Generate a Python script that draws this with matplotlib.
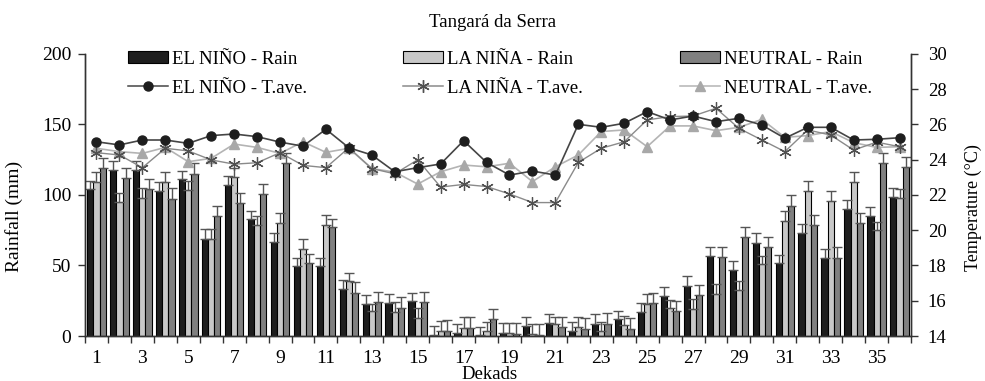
import numpy as np
import matplotlib
matplotlib.use("Agg")
import matplotlib.pyplot as plt
from matplotlib.patches import Patch
from matplotlib.lines import Line2D

plt.rcParams['font.family'] = ['Liberation Serif', 'DejaVu Serif']

dekads = list(range(1, 37))
tick_labels = [str(d) for d in range(1, 37, 2)]

rain_elnino = [104, 117.8, 117.8, 103, 111, 69, 107, 82.7, 66.6, 49.5, 49.5, 33, 23, 23.7, 25, 0.5, 2.4, 0.5,
               2.4, 7, 9.5, 3.5, 8.8, 11.8, 17, 28.4, 35.8, 56.9, 47, 66, 52, 72.7, 55, 89.8, 85, 98.8]
err_elnino = [6, 6, 6, 6.5, 6, 6.6, 6.5, 6.3, 6.4, 6, 6, 6.6, 6.4, 6.3, 5.8, 6.5, 6.4, 6,
              6.6, 6.5, 6.4, 6.5, 6.6, 6.2, 6.5, 6.4, 6.6, 6.1, 6, 6.7, 5.8, 6.7, 7, 6.6, 6.7, 6.2]
rain_lanina = [109.5, 95, 98, 109.5, 103.5, 69, 112.5, 78.7, 80, 61.6, 78.7, 39, 18, 17, 13, 3.5, 6, 3.5,
               2.4, 1.7, 8.3, 6.4, 3.8, 8, 23, 20, 19.4, 30, 32.5, 51.4, 81.8, 102.8, 95.7, 109.5, 75, 97.6]
err_lanina = [7, 6.5, 7, 6.5, 6.5, 7, 6.5, 6.3, 7.4, 7, 7, 6, 5, 7, 7, 7, 7.5, 6.5,
              6.6, 6.6, 5.2, 7, 6.2, 6.5, 7, 5.8, 7, 7, 6.5, 5.2, 7.2, 7.2, 7.1, 7, 6, 6.5]
rain_neutral = [119, 112, 104, 97.4, 115, 85, 94, 100.7, 122.5, 52, 77, 30.8, 24, 20, 24, 3.5, 6, 12,
                1.7, 0.5, 6.4, 5.2, 8.8, 5.2, 23.5, 17.8, 29.4, 56, 70, 63, 92, 78.4, 55, 80, 123, 120]
err_neutral = [7, 7, 7, 7.3, 7.5, 7, 7.6, 7.1, 7, 6, 6.2, 7.2, 7.5, 7.7, 7.5, 7.5, 7.5, 7,
               7.3, 7.8, 7.1, 7.8, 7.2, 7.4, 7.1, 7.1, 7.1, 7, 7.5, 7.4, 8, 7.4, 7.8, 7.3, 7, 7]

t_elnino = [25.02, 24.84, 25.12, 25.12, 24.93, 25.37, 25.46, 25.31, 25.0, 24.77, 25.73, 24.68, 24.27, 23.32,
            23.55, 23.76, 25.08, 23.85, 23.13, 23.36, 23.13, 26.01, 25.84, 26.07, 26.73, 26.26, 26.48, 26.16,
            26.35, 25.97, 25.22, 25.84, 25.84, 25.12, 25.16, 25.25]
t_lanina = [24.4, 24.27, 23.55, 24.65, 24.5, 23.99, 23.75, 23.83, 24.4, 23.68, 23.55, 24.68, 23.5, 23.2,
            24.0, 22.45, 22.6, 22.48, 22.06, 21.57, 21.57, 23.85, 24.65, 25.02, 26.26, 26.45, 26.48, 26.92,
            25.78, 25.12, 24.46, 25.69, 25.4, 24.55, 25.0, 24.74]
t_neutral = [24.65, 24.46, 24.36, 24.7, 23.89, 24.08, 24.89, 24.7, 24.36, 25.02, 24.42, 24.65, 23.5, 23.3,
             22.62, 23.32, 23.7, 23.6, 23.8, 22.76, 23.6, 24.27, 25.6, 25.69, 24.74, 25.92, 25.92, 25.65,
             25.84, 26.29, 25.27, 25.37, 25.6, 24.97, 24.7, 24.74]

c_en, c_ln, c_nt = '#1e1e1e', '#c8c8c8', '#808080'

fig = plt.figure(figsize=(9.85, 3.81), dpi=100)
ax = fig.add_axes([0.0863, 0.1181, 0.8386, 0.7402])
ax2 = ax.twinx()

x = np.array(dekads, dtype=float)
w = 0.27
for off, vals, errs, col in [(-w, rain_elnino, err_elnino, c_en),
                             (0, rain_lanina, err_lanina, c_ln),
                             (w, rain_neutral, err_neutral, c_nt)]:
    ax.bar(x + off, vals, width=w, color=col, edgecolor='black', linewidth=0.8, zorder=2)
    ax.errorbar(x + off, vals, yerr=[np.zeros(len(errs)), errs], fmt='none', ecolor='#555555',
                elinewidth=1.0, capsize=3.5, capthick=1.0, zorder=3)

ax2.plot(x, t_neutral, color='#b4b4b4', lw=1.2, marker='^', ms=7, mfc='#a8a8a8', mec='#a8a8a8', zorder=4)
ax2.plot(x, t_lanina, color='#8a8a8a', lw=1.0, marker=(6, 2, 0), ms=9, mfc='#505050', mec='#505050',
         mew=0.9, zorder=5)
ax2.plot(x, t_elnino, color='#454545', lw=1.2, marker='o', ms=6.5, mfc='#1e1e1e', mec='#1e1e1e', zorder=6)

ax.set_xlim(0.5, 36.5)
ax.set_ylim(0, 200)
ax2.set_ylim(14, 30)
ax.set_yticks([0, 50, 100, 150, 200])
ax2.set_yticks(list(range(14, 31, 2)))
ax.set_xticks(list(range(1, 37, 2)))
ax.set_xticklabels(tick_labels)
ax.set_xticks(np.arange(0.5, 37, 1.0), minor=True)
ax.tick_params(axis='x', which='major', length=0, pad=10, labelsize=14)
ax.tick_params(axis='x', which='minor', length=5, width=1, color='#333333')
ax.tick_params(axis='y', length=5, width=1, pad=5, labelsize=14, color='#333333')
ax2.tick_params(axis='y', length=5, width=1, pad=7, labelsize=13.5, color='#333333')

for a in (ax, ax2):
    a.spines['top'].set_visible(False)
    for s in ('left', 'right', 'bottom'):
        a.spines[s].set_color('#333333')
        a.spines[s].set_linewidth(1.0)
ax.set_zorder(0)
ax2.set_zorder(1)
ax2.patch.set_visible(False)

ax.set_ylabel('Rainfall (mm)', fontsize=14)
ax.yaxis.set_label_coords(-0.0755, 0.425)
ax2.set_ylabel('Temperature (°C)', fontsize=13)
ax2.yaxis.set_label_coords(1.0645, 0.457)
ax.set_xlabel('Dekads', fontsize=13.5)
ax.xaxis.set_label_coords(0.49, -0.105)
fig.text(0.5, 0.94, 'Tangará da Serra', ha='center', va='center', fontsize=13.5)

def leg(col, mk, lcol, mcol, ms, label, xpos):
    h = [Patch(facecolor=col, edgecolor='black', linewidth=0.8),
         Line2D([], [], color=lcol, marker=mk, ms=ms, mfc=mcol, mec=mcol, lw=1.1)]
    lg = fig.legend(h, [label + ' - Rain', label + ' - T.ave.'], loc='upper left',
                    bbox_to_anchor=(xpos, 0.866), frameon=False, fontsize=13.5,
                    handlelength=2.15, handleheight=0.6, handletextpad=0.2, labelspacing=0.62,
                    borderpad=0, borderaxespad=0)
    return lg

leg(c_en, 'o', '#454545', '#1e1e1e', 6.5, 'EL NIÑO', 128 / 985)
leg(c_ln, (6, 2, 0), '#8a8a8a', '#505050', 9, 'LA NIÑA', 403 / 985)
leg(c_nt, '^', '#b4b4b4', '#a8a8a8', 7, 'NEUTRAL', 680 / 985)

fig.savefig('out.png', dpi=100)
